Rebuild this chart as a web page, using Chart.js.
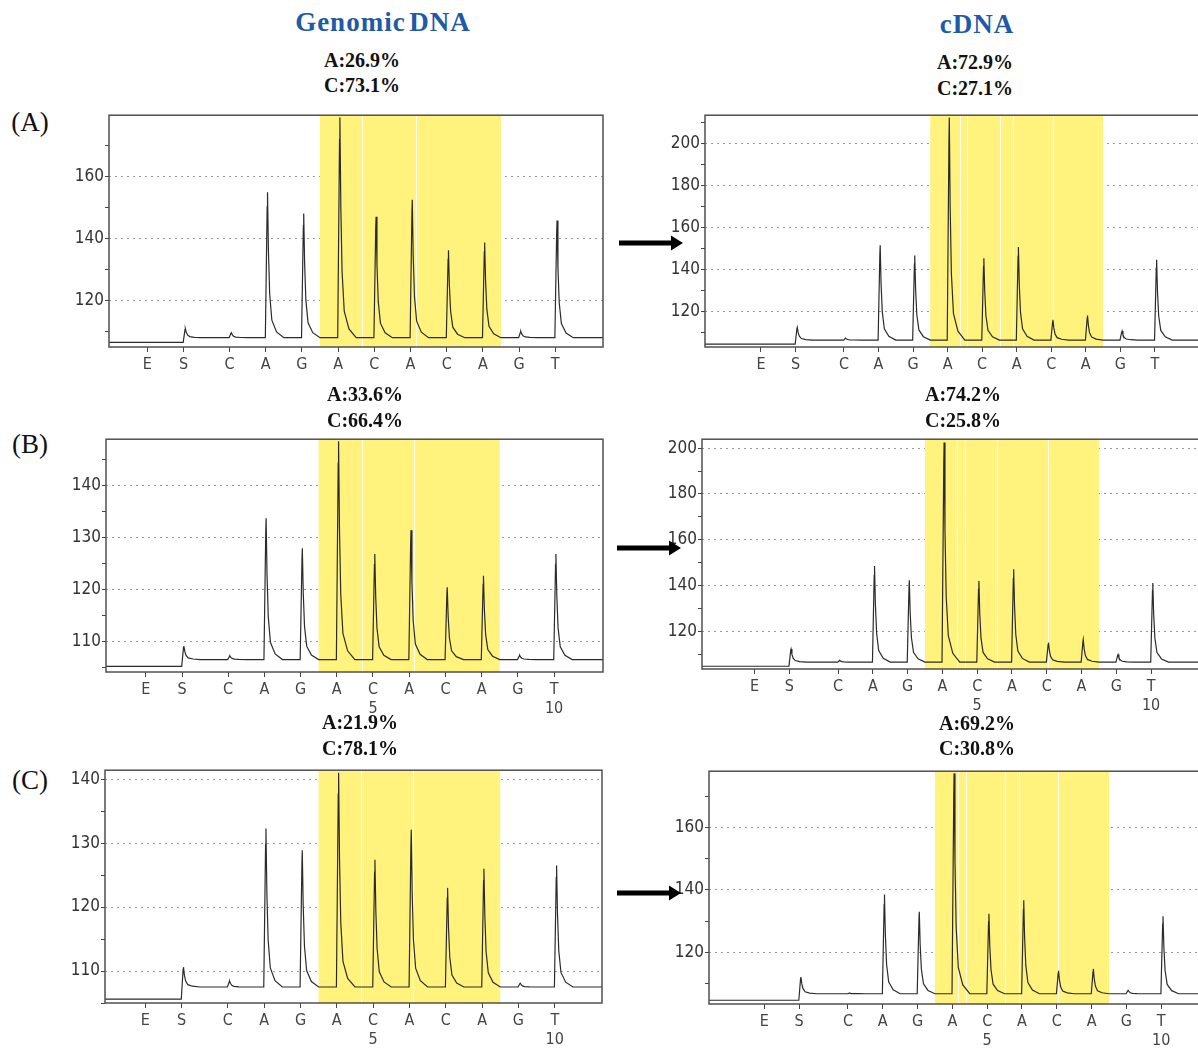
<!DOCTYPE html>
<html>
<head>
<meta charset="utf-8">
<script src="https://cdn.jsdelivr.net/npm/chart.js@4.4.1/dist/chart.umd.min.js"></script>
<style>
html, body { margin: 0; padding: 0; background: #fff; }
body { width: 1198px; height: 1048px; position: relative; overflow: hidden; }
canvas { position: absolute; }
.txt { position: absolute; white-space: nowrap; transform: translate(-50%, -50%); font-family: 'Liberation Serif', 'Times New Roman', serif; line-height: 1; z-index: 2; }
.title { color: #1d5ba6; font-weight: bold; font-size: 27px; letter-spacing: 1px; word-spacing: -4px; }
.pct { font-weight: bold; font-size: 20px; color: #111; }
.plab { font-size: 27px; color: #111; }
svg.arrow { position: absolute; z-index: 2; }
</style>
</head>
<body>
<div class="txt title" style="left:383px;top:22px">Genomic DNA</div>
<div class="txt title" style="left:977px;top:24px">cDNA</div>
<div class="txt plab" style="left:30px;top:122px">(A)</div>
<div class="txt plab" style="left:30px;top:444px">(B)</div>
<div class="txt plab" style="left:30px;top:780px">(C)</div>
<svg class="arrow" style="left:619px;top:234px" width="66" height="18"><path d="M0 6.5 H52 V1.5 L64 9 L52 16.5 V11.5 H0 Z" fill="#000"/></svg>
<svg class="arrow" style="left:617px;top:539px" width="66" height="18"><path d="M0 6.5 H52 V1.5 L64 9 L52 16.5 V11.5 H0 Z" fill="#000"/></svg>
<svg class="arrow" style="left:617px;top:884px" width="66" height="18"><path d="M0 6.5 H52 V1.5 L64 9 L52 16.5 V11.5 H0 Z" fill="#000"/></svg>

<script>
// dispensation order of the pyrogram (E = enzyme, S = substrate)
const DISPENSATIONS = ['E', 'S', 'C', 'A', 'G', 'A', 'C', 'A', 'C', 'A', 'G', 'T'];
const DISP_NUMBERS = ['', '', '', '', '', '', '5', '', '', '', '', '10'];
const GENOMIC_X = [0, 1, 2.27, 3.27, 4.27, 5.27, 6.27, 7.27, 8.27, 9.27, 10.27, 11.27];
const CDNA_X = [0, 1, 2.4, 3.4, 4.4, 5.4, 6.4, 7.4, 8.4, 9.4, 10.4, 11.4];

// peak heights (light units) per dispensation, E gives no peak
const PEAKS_A_GENOMIC = [null, 110.9, 109.6, 154.8, 148, 178.9, 146.9, 152.4, 136.1, 138.6, 110, 145.7];
const PEAKS_A_CDNA = [null, 112.4, 107.2, 151.5, 146.6, 212.5, 145.3, 150.7, 116, 118, 110.6, 144.6];
const PEAKS_B_GENOMIC = [null, 109.2, 107.3, 133.8, 128, 148.6, 126.9, 131.5, 120.5, 122.7, 107.4, 126.9];
const PEAKS_B_CDNA = [null, 112.2, 107.2, 148.5, 142.3, 202.5, 141.9, 147.1, 115, 116.4, 109.8, 141.1];
const PEAKS_C_GENOMIC = [null, 110.6, 108.4, 132.3, 128.9, 141, 127.4, 132.1, 123, 126, 108.1, 126.5];
const PEAKS_C_CDNA = [null, 112, 106.8, 138.5, 133, 177.5, 132.3, 136.7, 114, 114.6, 107.7, 131.5];

// baseline before / after the substrate step
const BASE_A_GENOMIC = [106.5, 108];
const BASE_A_CDNA = [104.4, 106.3];
const BASE_B_GENOMIC = [105.3, 106.6];
const BASE_B_CDNA = [104.7, 106.5];
const BASE_C_GENOMIC = [105.6, 107.5];
const BASE_C_CDNA = [104.5, 106.6];

// y axis ranges
const Y_A_GENOMIC = [105, 179.6];
const Y_A_CDNA = [103, 213.6];
const Y_B_GENOMIC = [104.2, 149];
const Y_B_CDNA = [103.5, 203.9];
const Y_C_GENOMIC = [105, 141.4];
const Y_C_CDNA = [103.3, 178.2];

// white separator lines inside the highlighted region
const WHITE_A_GENOMIC = [5.94, 7.43];
const WHITE_A_CDNA = [5.75, 5.95, 6.93, 7.28, 8.45];
const WHITE_B_GENOMIC = [5.96, 7.41];
const WHITE_B_CDNA = [5.82, 6.04, 6.97, 8.43];
const WHITE_C_GENOMIC = [5.93, 7.38];
const WHITE_C_CDNA = [5.57, 5.79, 6.91, 7.30, 8.42];

// allele percentages
const PCT_A_GENOMIC = ['A:26.9%', 'C:73.1%'];
const PCT_A_CDNA = ['A:72.9%', 'C:27.1%'];
const PCT_B_GENOMIC = ['A:33.6%', 'C:66.4%'];
const PCT_B_CDNA = ['A:74.2%', 'C:25.8%'];
const PCT_C_GENOMIC = ['A:21.9%', 'C:78.1%'];
const PCT_C_CDNA = ['A:69.2%', 'C:30.8%'];

const YW = 50, PT = 4, PR = 4, XH = 50;
const TICK_FONT = { family: "'Liberation Sans Narrow', 'DejaVu Sans Condensed', 'Liberation Sans', sans-serif", size: 17 };
const X_FONT = { family: "'Liberation Sans Narrow', 'DejaVu Sans Condensed', 'Liberation Sans', sans-serif", size: 16 };

// peak outline: [offset from peak, fraction of peak height]
const PEAK_SHAPE = [[-0.06, 0], [-0.01, 0.9], [0, 1], [0.025, 0.6], [0.06, 0.3], [0.12, 0.12], [0.25, 0.04], [0.45, 0]];

const PANELS = [
    { x: GENOMIC_X, peaks: PEAKS_A_GENOMIC, base: BASE_A_GENOMIC, y: Y_A_GENOMIC, minor: 10, major: 20, xr: [-1.06, 12.59], white: WHITE_A_GENOMIC, pct: PCT_A_GENOMIC, nums: false, box: [109, 108, 603, 347], pctAt: [362, 60, 85] },
    { x: CDNA_X, peaks: PEAKS_A_CDNA, base: BASE_A_CDNA, y: Y_A_CDNA, minor: 10, major: 20, xr: [-1.62, 12.85], white: WHITE_A_CDNA, pct: PCT_A_CDNA, nums: false, box: [705, 108, 1205, 347], pctAt: [975, 62, 88] },
    { x: GENOMIC_X, peaks: PEAKS_B_GENOMIC, base: BASE_B_GENOMIC, y: Y_B_GENOMIC, minor: 5, major: 10, xr: [-1.1, 12.62], white: WHITE_B_GENOMIC, pct: PCT_B_GENOMIC, nums: true, box: [106, 432, 603, 672], pctAt: [365, 394, 420] },
    { x: CDNA_X, peaks: PEAKS_B_CDNA, base: BASE_B_CDNA, y: Y_B_CDNA, minor: 10, major: 20, xr: [-1.51, 12.95], white: WHITE_B_CDNA, pct: PCT_B_CDNA, nums: true, box: [702, 432, 1205, 669], pctAt: [963, 394, 420] },
    { x: GENOMIC_X, peaks: PEAKS_C_GENOMIC, base: BASE_C_GENOMIC, y: Y_C_GENOMIC, minor: 5, major: 10, xr: [-1.11, 12.57], white: WHITE_C_GENOMIC, pct: PCT_C_GENOMIC, nums: true, box: [105, 763, 602, 1003], pctAt: [360, 722, 748] },
    { x: CDNA_X, peaks: PEAKS_C_CDNA, base: BASE_C_CDNA, y: Y_C_CDNA, minor: 10, major: 20, xr: [-1.59, 12.8], white: WHITE_C_CDNA, pct: PCT_C_CDNA, nums: true, box: [709, 764, 1210, 1004], pctAt: [977, 723, 748] },
];

function buildTrace(p) {
    const pts = [{ x: p.xr[0], y: p.base[0] }];
    p.x.forEach((xv, i) => {
        const h = p.peaks[i];
        if (h == null) {
            return;
        }
        const px = xv + 0.05;
        PEAK_SHAPE.forEach(([dx, f], k) => {
            const b = (k === 0 && i === 1) ? p.base[0] : p.base[1];
            pts.push({ x: px + dx, y: b + (h - b) * f });
        });
    });
    pts.push({ x: p.xr[1], y: p.base[1] });
    return pts;
}

const panelDecor = {
    id: 'panelDecor',
    beforeDatasetsDraw(chart, args, opts) {
        const p = opts.panel;
        const { ctx, chartArea: a } = chart;
        const xs = chart.scales.x;
        const x0 = xs.getPixelForValue((p.x[4] + p.x[5]) / 2);
        const x1 = xs.getPixelForValue((p.x[9] + p.x[10]) / 2);
        ctx.save();
        ctx.fillStyle = '#fff27d';
        ctx.fillRect(x0, a.top, x1 - x0, a.bottom - a.top);
        ctx.strokeStyle = 'rgba(255,255,255,0.85)';
        ctx.lineWidth = 1.2;
        p.white.forEach(v => {
            const xp = Math.round(xs.getPixelForValue(v)) + 0.5;
            ctx.beginPath();
            ctx.moveTo(xp, a.top);
            ctx.lineTo(xp, a.bottom);
            ctx.stroke();
        });
        ctx.restore();
    },
    afterDraw(chart) {
        const { ctx, chartArea: a } = chart;
        ctx.save();
        ctx.strokeStyle = '#505050';
        ctx.lineWidth = 1.5;
        ctx.strokeRect(a.left, a.top, a.right - a.left, a.bottom - a.top);
        ctx.restore();
    },
};

PANELS.forEach(p => {
    const [l, t, r, b] = p.box;
    const canvas = document.createElement('canvas');
    const w = r - l + YW + PR;
    const h = b - t + PT + XH;
    canvas.width = w;
    canvas.height = h;
    canvas.style.left = (l - YW) + 'px';
    canvas.style.top = (t - PT) + 'px';
    canvas.style.width = w + 'px';
    canvas.style.height = h + 'px';
    document.body.appendChild(canvas);

    p.pct.forEach((s, i) => {
        const d = document.createElement('div');
        d.className = 'txt pct';
        d.textContent = s;
        d.style.left = p.pctAt[0] + 'px';
        d.style.top = p.pctAt[1 + i] + 'px';
        document.body.appendChild(d);
    });

    new Chart(canvas, {
        type: 'line',
        data: {
            datasets: [{
                data: buildTrace(p),
                borderColor: '#2b2b2b',
                borderWidth: 1.2,
                pointRadius: 0,
                tension: 0,
                fill: false,
            }],
        },
        options: {
            responsive: false,
            animation: false,
            events: [],
            layout: { padding: { top: PT, right: PR, left: 0, bottom: 0 } },
            plugins: {
                legend: { display: false },
                tooltip: { enabled: false },
                panelDecor: { panel: p },
            },
            scales: {
                x: {
                    type: 'linear',
                    min: p.xr[0],
                    max: p.xr[1],
                    afterBuildTicks: s => { s.ticks = p.x.map(v => ({ value: v })); },
                    afterFit: s => { s.height = XH; },
                    ticks: {
                        autoSkip: false,
                        maxRotation: 0,
                        padding: 3,
                        color: '#444',
                        font: X_FONT,
                        callback: (v, i) => (p.nums && DISP_NUMBERS[i]) ? [DISPENSATIONS[i], DISP_NUMBERS[i]] : DISPENSATIONS[i],
                    },
                    grid: { drawOnChartArea: false, tickLength: 5, color: '#444' },
                    border: { display: false },
                },
                y: {
                    min: p.y[0],
                    max: p.y[1],
                    afterFit: s => { s.width = YW; },
                    ticks: {
                        stepSize: p.minor,
                        includeBounds: false,
                        autoSkip: false,
                        padding: 1,
                        color: '#333',
                        font: TICK_FONT,
                        callback: v => (v % p.major === 0 ? v : ''),
                    },
                    grid: {
                        color: c => (c.tick && c.tick.value % p.major === 0 ? '#9a9a9a' : 'rgba(0,0,0,0)'),
                        tickColor: '#444',
                        tickLength: 4,
                    },
                    border: { display: false, dash: [2, 4] },
                },
            },
        },
        plugins: [panelDecor],
    });
});
</script>
</body>
</html>
